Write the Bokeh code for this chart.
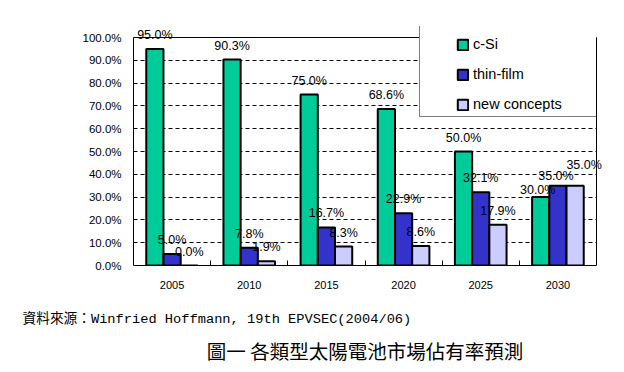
from bokeh.plotting import figure
from bokeh.models import (FixedTicker, PrintfTickFormatter, ColumnDataSource, Legend,
                          LegendItem, Title, Range1d, LinearAxis, Span)
from bokeh.core.properties import value
from bokeh.embed import file_html
from bokeh.resources import INLINE

# ---------------- data ----------------
years = ["2005", "2010", "2015", "2020", "2025", "2030"]
c_si = [95.0, 90.3, 75.0, 68.6, 50.0, 30.0]
thin_film = [5.0, 7.8, 16.7, 22.9, 32.1, 35.0]
new_concepts = [0.0, 1.9, 8.3, 8.6, 17.9, 35.0]
series_names = ["c-Si", "thin-film", "new concepts"]
y_ticks = [0, 10, 20, 30, 40, 50, 60, 70, 80, 90, 100]
source_text = "資料來源：Winfried Hoffmann, 19th EPVSEC(2004/06)"
caption_text = "圖一 各類型太陽電池市場佔有率預測"

# ---------------- style ----------------
colors = ["#00CC99", "#3333CC", "#CCCCFF"]
BAR_W = 0.223
TICK_FONT = "Liberation Sans"
Y_MAX = y_ticks[-1]
PLOT_H = 228          # pixel height of the 0..100% box
HEAD = 11             # extra pixels above 100% so the legend box can stick out
Y_TOP = Y_MAX * (PLOT_H + HEAD) / PLOT_H
# per-label nudges (px) where the original placed labels off the default spot
label_nudge = {(0, 5): (-3, 7), (1, 5): (-2, 4), (2, 5): (9, -7)}

p = figure(width=624, height=372, output_backend="svg", toolbar_location=None,
           x_range=Range1d(0, len(years)), y_range=Range1d(0, Y_TOP),
           min_border_left=133, min_border_right=28, min_border_top=37 - HEAD,
           min_border_bottom=107)
p.background_fill_color = "white"
p.border_fill_color = "white"
p.outline_line_color = None

series = [c_si, thin_film, new_concepts]
renderers = []
lx, ly, ltxt, ldx, ldy = [], [], [], [], []
for k, vals in enumerate(series):
    xs = [i + 0.5 + (k - 1) * BAR_W for i in range(len(years))]
    src = ColumnDataSource(dict(x=xs, top=vals))
    r = p.vbar(x="x", top="top", bottom=0, width=BAR_W, source=src,
               fill_color=colors[k], line_color="black", line_width=2)
    renderers.append(r)
    for i, v in enumerate(vals):
        dx, dy = label_nudge.get((k, i), (0, 0))
        lx.append(xs[i]); ly.append(v); ltxt.append(f"{v:.1f}%")
        ldx.append(dx); ldy.append(-14 + dy)

lsrc = ColumnDataSource(dict(x=lx, y=ly, t=ltxt, dx=ldx, dy=ldy))
tr = p.text(x="x", y="y", text="t", x_offset="dx", y_offset="dy", source=lsrc,
            text_align="center", text_baseline="middle",
            text_font=value(TICK_FONT), text_font_size="12.5px", text_color="black")
tr.level = "overlay"

# axes
centers = [i + 0.5 for i in range(len(years))]
p.xaxis.ticker = FixedTicker(ticks=centers, minor_ticks=list(range(1, len(years))))
p.xaxis.major_label_overrides = {c: y for c, y in zip(centers, years)}
p.xaxis.major_tick_in = 0
p.xaxis.major_tick_out = 0
p.xaxis.minor_tick_in = 5
p.xaxis.minor_tick_out = 0
p.xaxis.minor_tick_line_color = "black"
p.xaxis.major_label_standoff = 15
p.xaxis.major_label_text_font = TICK_FONT
p.xaxis.major_label_text_font_size = "11px"
p.xaxis.major_label_text_color = "black"
p.xaxis.axis_line_color = "black"

p.yaxis.ticker = FixedTicker(ticks=y_ticks)
p.yaxis.bounds = (0, Y_MAX)
p.yaxis.formatter = PrintfTickFormatter(format="%.1f%%")
p.yaxis.major_tick_in = 0
p.yaxis.major_tick_out = 0
p.yaxis.minor_tick_line_color = None
p.yaxis.major_label_standoff = 12
p.yaxis.major_label_text_font = TICK_FONT
p.yaxis.major_label_text_font_size = "11.5px"
p.yaxis.major_label_text_color = "black"
p.yaxis.axis_line_color = "black"

# right edge of the plot box
raxis = LinearAxis(bounds=(0, Y_MAX), ticker=FixedTicker(ticks=[]),
                   major_tick_line_color=None, minor_tick_line_color=None,
                   major_label_text_font_size="0px", axis_line_color="black")
p.add_layout(raxis, "right")

p.xgrid.visible = False
p.ygrid.ticker = FixedTicker(ticks=y_ticks)
p.ygrid.grid_line_color = "black"
p.ygrid.grid_line_dash = "4 3"
p.ygrid.grid_line_width = 1

# top edge of the plot box
p.add_layout(Span(location=Y_MAX, dimension="width", line_color="black", line_width=1))

# legend frame: an invisible-item legend that only supplies the white bordered box
ghost = p.vbar(x=[], top=[], width=BAR_W, fill_alpha=0, line_alpha=0)
box_legend = Legend(items=[LegendItem(label=" ", renderers=[ghost]) for _ in series_names],
                    location=(286, 148), padding=5, spacing=10, label_standoff=4,
                    glyph_width=13, glyph_height=13, label_height=20, label_width=151,
                    label_text_font=TICK_FONT, label_text_font_size="14.5px",
                    label_text_alpha=0,
                    background_fill_color="white", background_fill_alpha=1,
                    border_line_color="black", border_line_width=1)
p.add_layout(box_legend)

legend = Legend(items=[LegendItem(label=n, renderers=[r]) for n, r in zip(series_names, renderers)],
                location=(318, 146), padding=5, spacing=10, label_standoff=4,
                glyph_width=13, glyph_height=13, label_height=20,
                label_text_font=TICK_FONT, label_text_font_size="14.5px",
                label_text_color="black",
                background_fill_alpha=0, border_line_alpha=0)
p.add_layout(legend)

# footer texts
t1 = Title(text=source_text, align="left", offset=-111, vertical_align="bottom",
           standoff=37, text_font="'Liberation Mono', 'Noto Sans CJK TC'",
           text_font_size="13.7px", text_font_style="normal", text_color="black")
t2 = Title(text=caption_text, align="center", offset=10, vertical_align="middle",
           standoff=-22, text_font="Noto Sans CJK TC", text_font_size="19.5px",
           text_font_style="normal", text_color="black")
p.add_layout(t1, "below")
p.add_layout(t2, "below")

open("out.html", "w").write(file_html(p, INLINE))
